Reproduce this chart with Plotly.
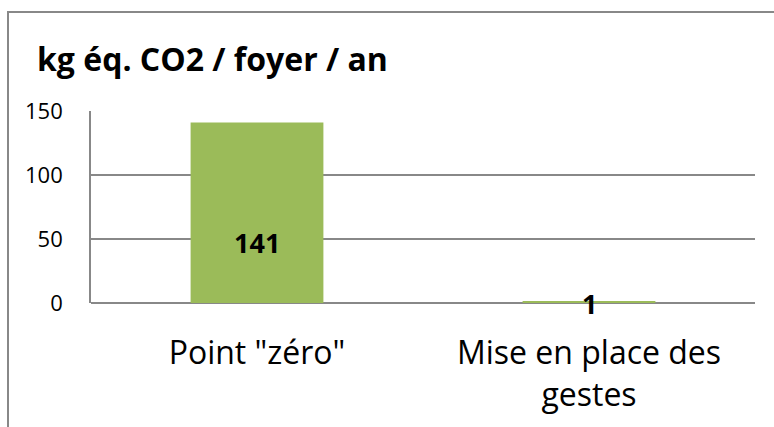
import plotly.graph_objects as go

categories = ['Point "zéro"', "Mise en place des<br>gestes"]
values = [141, 1]
label_shift = [61, 0]
y_ticks = [0, 50, 100, 150]
title_text = "kg éq. CO2 / foyer / an"

W, H = 774, 427
ml, mr, mt, mb = 91, 19, 111, 124
FONT = "Open Sans"

fig = go.Figure()
fig.add_trace(go.Bar(
    x=categories, y=values,
    marker=dict(color="#9BBB59", line=dict(width=0)),
    hoverinfo="skip",
))

for c, v, s in zip(categories, values, label_shift):
    fig.add_annotation(
        x=c, y=0, xref="x", yref="y", text=f"<b>{v}</b>",
        showarrow=False, yanchor="middle", yshift=s,
        font=dict(family=FONT, size=27, color="black"),
    )

pw = W - ml - mr
ph = H - mt - mb
fig.add_shape(
    type="rect", xref="paper", yref="paper",
    x0=(8 - ml) / pw, x1=(W + 10 - ml) / pw,
    y0=-(H + 10 - (H - mb)) / ph, y1=((H - mb) - 12) / ph,
    line=dict(color="#888888", width=2), fillcolor="rgba(0,0,0,0)",
    layer="below",
)

fig.update_layout(
    width=W, height=H,
    margin=dict(l=ml, r=mr, t=mt, b=mb, pad=0),
    paper_bgcolor="white", plot_bgcolor="white",
    bargap=0.6, showlegend=False,
    font=dict(family=FONT, color="black"),
    title=dict(
        text=f"<b>{title_text}</b>", x=37 / W, xanchor="left",
        y=1 - 60 / H, yanchor="middle", yref="container",
        font=dict(family=FONT, size=32, color="black"),
    ),
    xaxis=dict(
        showgrid=False, showline=False, ticks="",
        tickfont=dict(family=FONT, size=32, color="black"),
        ticklabelstandoff=28,
    ),
    yaxis=dict(
        range=[0, 150], tickvals=y_ticks,
        showgrid=True, gridcolor="#888888", gridwidth=1.7,
        showline=True, linecolor="#888888", linewidth=1.7,
        zeroline=True, zerolinecolor="#888888", zerolinewidth=1.7,
        ticks="", tickfont=dict(family=FONT, size=22, color="black"),
        ticklabelstandoff=22,
    ),
)

fig.write_html(
    "out.html",
    config={"displayModeBar": False},
    post_script="document.body.style.margin='0';document.body.style.overflow='hidden';",
)
